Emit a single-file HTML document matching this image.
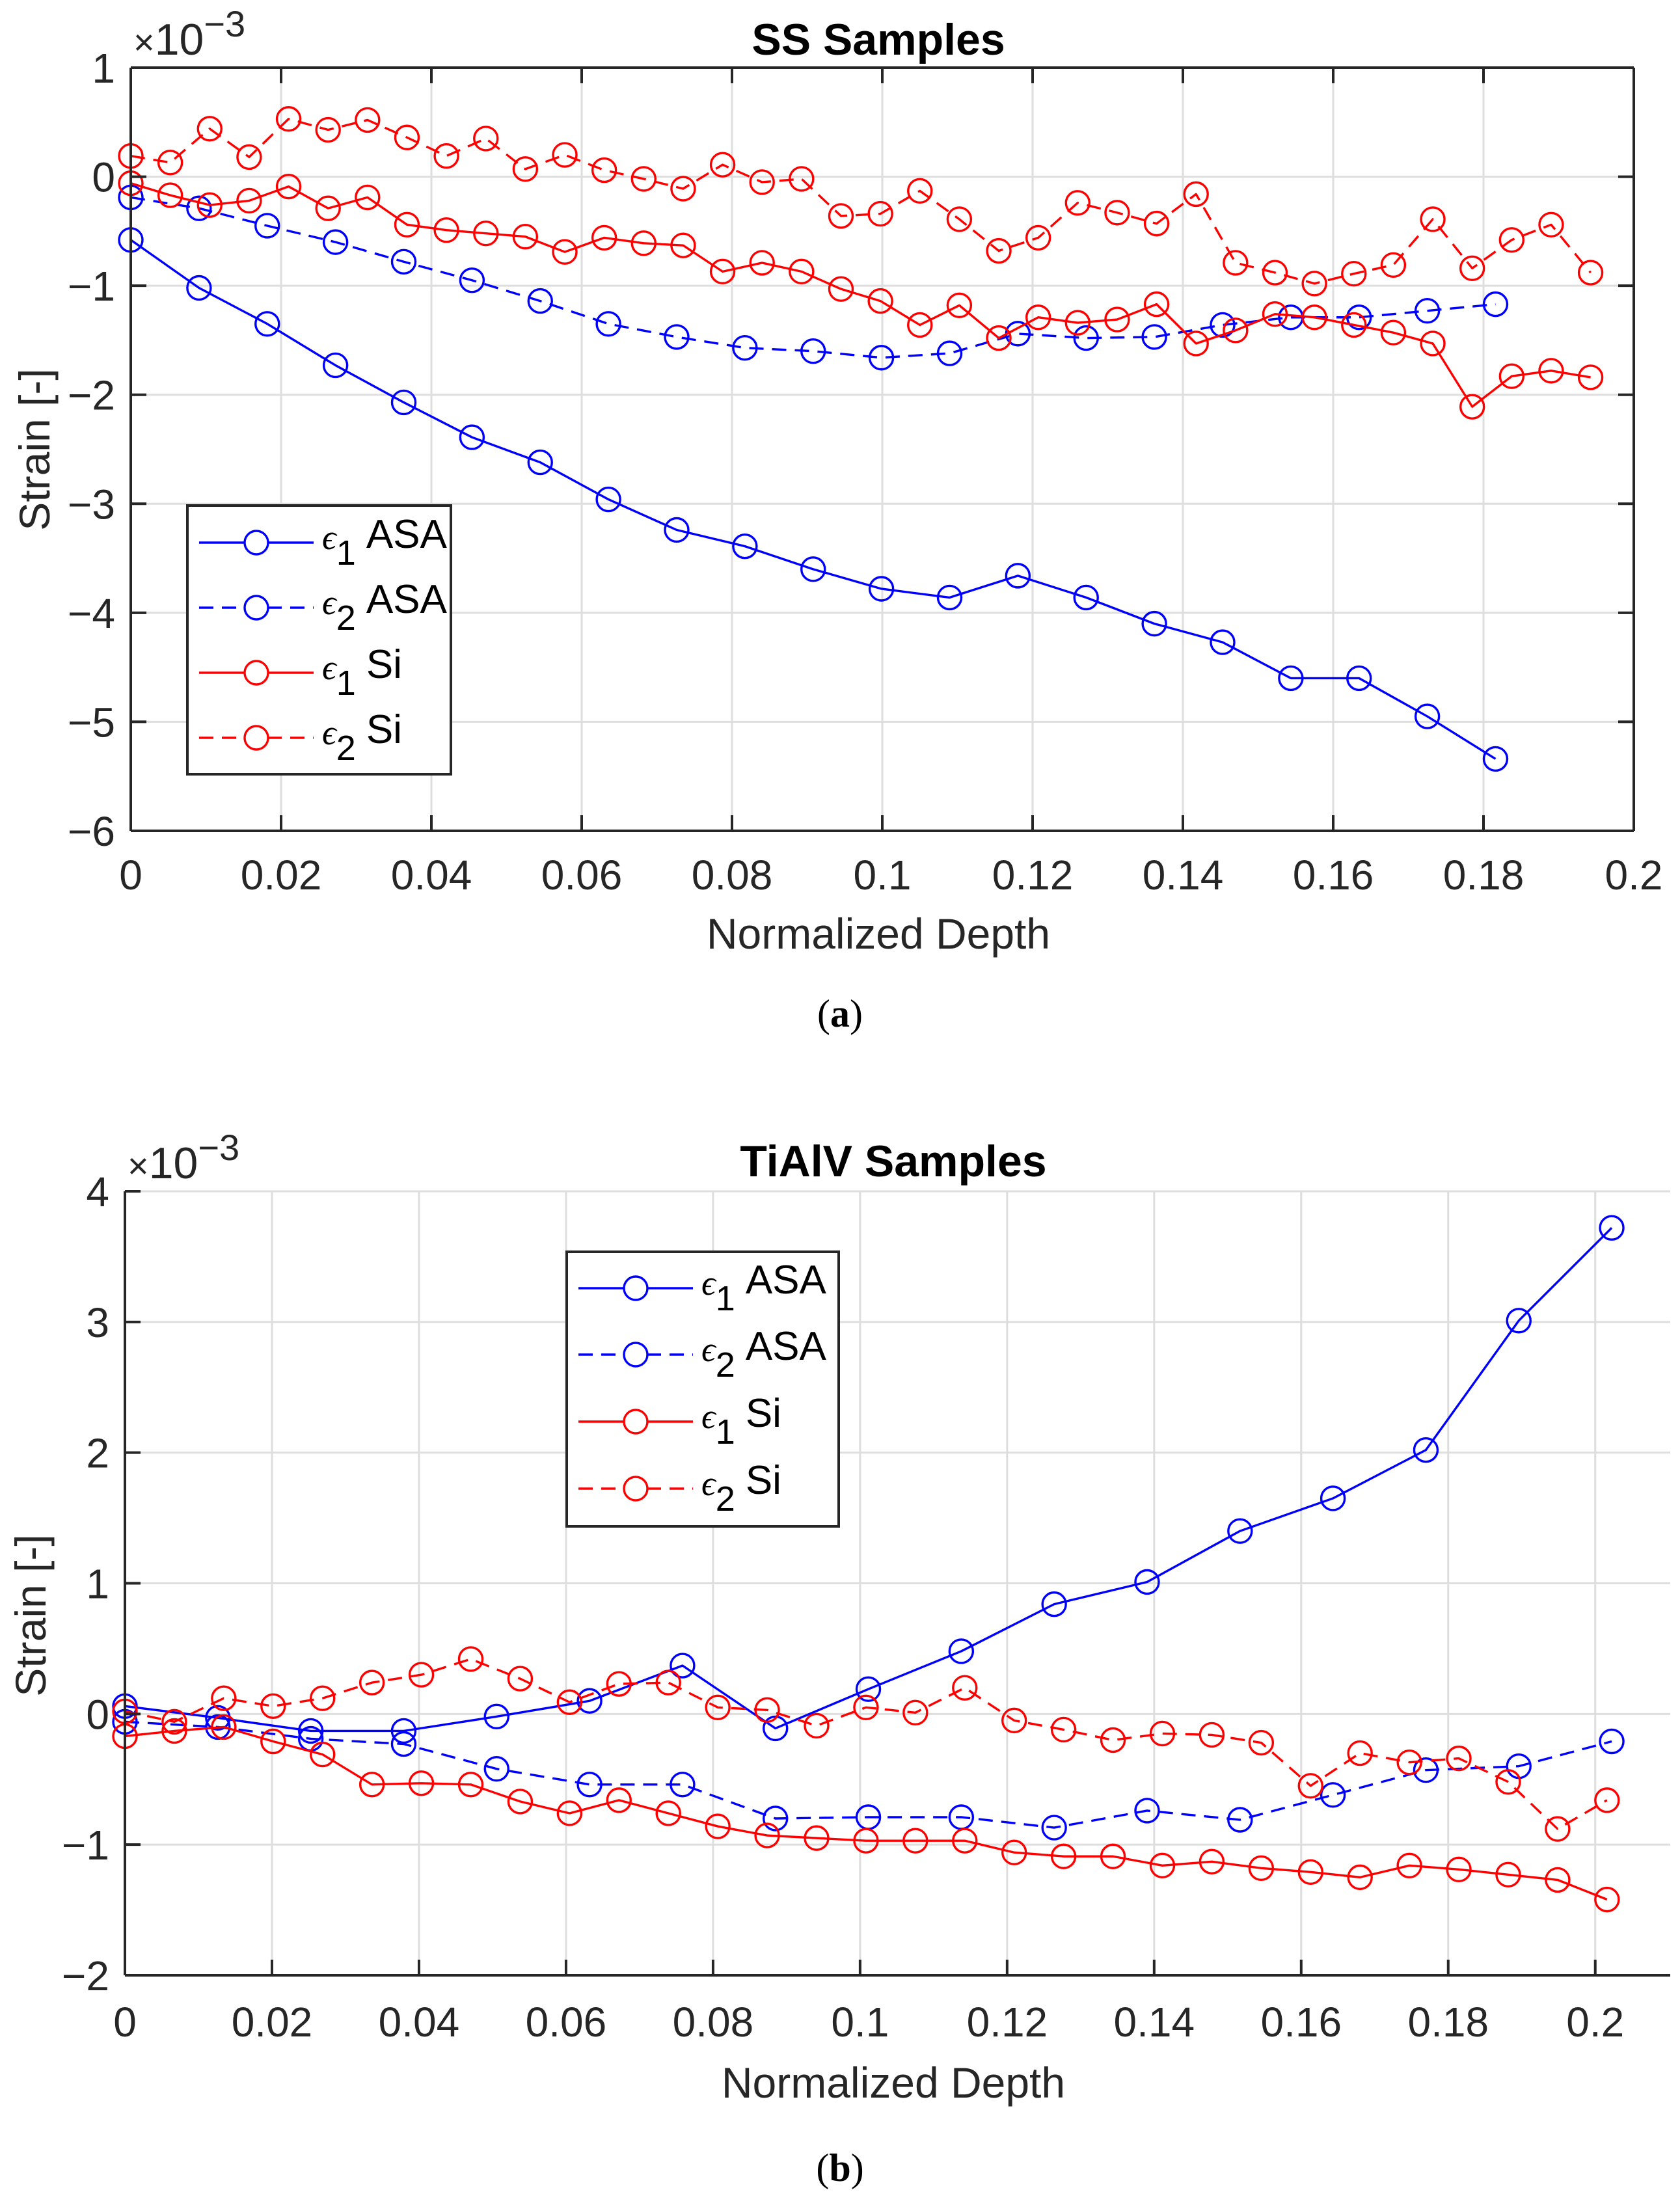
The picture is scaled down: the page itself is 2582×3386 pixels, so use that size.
<!DOCTYPE html>
<html><head><meta charset="utf-8"><style>
html,body{margin:0;padding:0;background:#fff;}
svg{display:block;font-family:"Liberation Sans",Arial,sans-serif;}
</style></head><body>
<svg id="fig" width="2582" height="3386" viewBox="0 0 2582 3386" xmlns="http://www.w3.org/2000/svg"></svg>
<script>
// ---- Panel (a) SS data ----
const ssAsaX = [0,0.00908,0.01816,0.02724,0.03632,0.0454,0.05448,0.06356,0.07264,0.08172,0.0908,0.09988,0.10896,0.11804,0.12712,0.1362,0.14528,0.15436,0.16344,0.17252,0.1816];
const ssAsaE1 = [-0.58,-1.02,-1.35,-1.73,-2.07,-2.39,-2.62,-2.96,-3.24,-3.39,-3.60,-3.78,-3.86,-3.66,-3.86,-4.10,-4.27,-4.60,-4.60,-4.95,-5.34];
const ssAsaE2 = [-0.19,-0.29,-0.45,-0.60,-0.78,-0.95,-1.14,-1.35,-1.47,-1.57,-1.60,-1.66,-1.62,-1.44,-1.48,-1.47,-1.36,-1.29,-1.29,-1.23,-1.17];
const ssSiX = [0,0.00525,0.0105,0.01575,0.021,0.02625,0.0315,0.03675,0.042,0.04725,0.0525,0.05775,0.063,0.06825,0.0735,0.07875,0.084,0.08925,0.0945,0.09975,0.105,0.11025,0.1155,0.12075,0.126,0.13125,0.1365,0.14175,0.147,0.15225,0.1575,0.16275,0.168,0.17325,0.1785,0.18375,0.189,0.19425];
const ssSiE1 = [-0.06,-0.17,-0.26,-0.22,-0.09,-0.29,-0.19,-0.44,-0.49,-0.52,-0.55,-0.69,-0.56,-0.61,-0.63,-0.87,-0.79,-0.87,-1.03,-1.14,-1.36,-1.18,-1.48,-1.29,-1.34,-1.31,-1.17,-1.53,-1.41,-1.26,-1.29,-1.36,-1.43,-1.53,-2.11,-1.83,-1.78,-1.84];
const ssSiE2 = [0.19,0.13,0.44,0.18,0.53,0.43,0.52,0.36,0.19,0.35,0.07,0.20,0.06,-0.02,-0.11,0.11,-0.05,-0.02,-0.36,-0.34,-0.13,-0.39,-0.68,-0.56,-0.24,-0.33,-0.43,-0.16,-0.79,-0.88,-0.98,-0.89,-0.81,-0.39,-0.84,-0.58,-0.44,-0.88];
const ssXTicks = [0,0.02,0.04,0.06,0.08,0.1,0.12,0.14,0.16,0.18,0.2];
const ssYTicks = [1,0,-1,-2,-3,-4,-5,-6];

// ---- Panel (b) TiAlV data ----
const tiAsaX = [0,0.01264,0.02528,0.03792,0.05056,0.0632,0.07584,0.08848,0.10112,0.11376,0.1264,0.13904,0.15168,0.16432,0.17696,0.1896,0.20224];
const tiAsaE1 = [0.06,-0.03,-0.13,-0.13,-0.02,0.10,0.37,-0.11,0.19,0.48,0.84,1.01,1.40,1.65,2.02,3.01,3.72];
const tiAsaE2 = [-0.06,-0.10,-0.19,-0.23,-0.42,-0.54,-0.54,-0.80,-0.79,-0.79,-0.87,-0.74,-0.81,-0.62,-0.43,-0.40,-0.21];
const tiSiX = [0,0.00672,0.01344,0.02016,0.02688,0.0336,0.04032,0.04704,0.05376,0.06048,0.0672,0.07392,0.08064,0.08736,0.09408,0.1008,0.10752,0.11424,0.12096,0.12768,0.1344,0.14112,0.14784,0.15456,0.16128,0.168,0.17472,0.18144,0.18816,0.19488,0.2016];
const tiSiE1 = [-0.17,-0.13,-0.10,-0.21,-0.31,-0.54,-0.53,-0.54,-0.67,-0.76,-0.66,-0.76,-0.86,-0.93,-0.95,-0.97,-0.97,-0.97,-1.06,-1.09,-1.09,-1.16,-1.13,-1.18,-1.21,-1.25,-1.16,-1.19,-1.23,-1.27,-1.42];
const tiSiE2 = [0.02,-0.06,0.12,0.06,0.12,0.24,0.30,0.42,0.27,0.09,0.23,0.24,0.05,0.03,-0.09,0.05,0.01,0.20,-0.05,-0.12,-0.20,-0.15,-0.16,-0.22,-0.55,-0.30,-0.37,-0.34,-0.52,-0.88,-0.66];
const tiXTicks = [0,0.02,0.04,0.06,0.08,0.1,0.12,0.14,0.16,0.18,0.2];
const tiYTicks = [4,3,2,1,0,-1,-2];

const NS = "http://www.w3.org/2000/svg";
const svg = document.getElementById('fig');
function el(tag, attrs, parent){
  const e = document.createElementNS(NS, tag);
  for (const k in attrs) e.setAttribute(k, attrs[k]);
  (parent||svg).appendChild(e);
  return e;
}
function fmt(v){ const s = String(v); return v<0 ? '\u2212'+s.slice(1) : s; }
const AX = '#262626', GRID = '#dedede', BLUE = '#0000ff', RED = '#ff0000';

function panel(cfg){
  const g = el('g', {});
  
  
  const sx = v => cfg.L + (v - cfg.x0) / (cfg.x1 - cfg.x0) * (cfg.R - cfg.L);
  const sy = v => cfg.T + (cfg.y1 - v) / (cfg.y1 - cfg.y0) * (cfg.B - cfg.T);
  cfg.xt.forEach(t => { const l = el('line', {x1:sx(t),x2:sx(t),y1:cfg.T,y2:cfg.B,stroke:GRID,'stroke-width':3}, g);
      });
  cfg.yt.forEach(t => { const l = el('line', {x1:cfg.L,x2:cfg.R,y1:sy(t),y2:sy(t),stroke:GRID,'stroke-width':3}, g);
      });
  cfg.series.forEach(s => {
    const sg = el('g', {}, g);
    
    
    const pts = s.x.map((x,i) => sx(x)+','+sy(s.y[i])).join(' ');
    el('polyline', {points:pts, fill:'none', stroke:s.c, 'stroke-width':3.4, 'stroke-dasharray': s.dash ? '22 13' : 'none', 'stroke-linejoin':'round'}, sg);
    s.x.forEach((x,i) => {
      const m = el('circle', {cx:sx(x), cy:sy(s.y[i]), r:18, fill:'none', stroke:s.c, 'stroke-width':3.4}, sg);
      
      
    });
  });
  const ax = el('g', {}, g);
  
  
  el('line', {x1:cfg.L,x2:cfg.L,y1:cfg.T,y2:cfg.B,stroke:AX,'stroke-width':4}, ax);
  el('line', {x1:cfg.L,x2:cfg.R,y1:cfg.B,y2:cfg.B,stroke:AX,'stroke-width':4}, ax);
  if (cfg.box){
    el('line', {x1:cfg.R,x2:cfg.R,y1:cfg.T,y2:cfg.B,stroke:AX,'stroke-width':4}, ax);
    el('line', {x1:cfg.L,x2:cfg.R,y1:cfg.T,y2:cfg.T,stroke:AX,'stroke-width':4}, ax);
  }
  cfg.xt.forEach(t => {
    el('line', {x1:sx(t),x2:sx(t),y1:cfg.B,y2:cfg.B-24,stroke:AX,'stroke-width':4}, ax);
    if (cfg.box) el('line', {x1:sx(t),x2:sx(t),y1:cfg.T,y2:cfg.T+24,stroke:AX,'stroke-width':4}, ax);
    const tx = el('text', {x:sx(t), y:cfg.B+cfg.xtOff, 'text-anchor':'middle', 'font-size':64, fill:AX}, ax);
    tx.textContent = fmt(t);
    
    
  });
  cfg.yt.forEach(t => {
    el('line', {x1:cfg.L,x2:cfg.L+24,y1:sy(t),y2:sy(t),stroke:AX,'stroke-width':4}, ax);
    if (cfg.box) el('line', {x1:cfg.R,x2:cfg.R-24,y1:sy(t),y2:sy(t),stroke:AX,'stroke-width':4}, ax);
    const tx = el('text', {x:cfg.L-24, y:sy(t)+23, 'text-anchor':'end', 'font-size':64, fill:AX}, ax);
    tx.textContent = fmt(t);
    
    
  });
  const ex = el('text', {x:cfg.L+4, y:cfg.T-20, 'font-size':68, fill:AX}, g);
  
  
  ex.innerHTML = '<tspan font-size="56">\u00d7</tspan>10<tspan dy="-28" font-size="56">\u22123</tspan>';
  const ti = el('text', {x:cfg.tX, y:cfg.tY, 'text-anchor':'middle', 'font-size':68, 'font-weight':'bold', fill:'#000'}, g);
  ti.textContent = cfg.title;
  
  
  const xl = el('text', {x:cfg.tX, y:cfg.xlY, 'text-anchor':'middle', 'font-size':66, fill:AX}, g);
  xl.textContent = 'Normalized Depth';
  
  
  const yl = el('text', {x:0, y:0, 'text-anchor':'middle', 'font-size':66, fill:AX, transform:'translate('+cfg.ylX+','+cfg.ylY+') rotate(-90)'}, g);
  yl.textContent = 'Strain [-]';
  
  
  const lg = el('g', {}, g);
  
  
  const Lg = cfg.leg;
  el('rect', {x:Lg.x, y:Lg.y, width:Lg.w, height:Lg.h, fill:'#fff', stroke:'#262626', 'stroke-width':4}, lg);
  cfg.series.forEach((s,i) => {
    const e = el('g', {}, lg);
    
    
    const yy = Lg.rows[i];
    el('line', {x1:Lg.x+18, x2:Lg.x+194, y1:yy, y2:yy, stroke:s.c, 'stroke-width':3.4, 'stroke-dasharray': s.dash ? '22 13' : 'none'}, e);
    el('circle', {cx:Lg.x+106, cy:yy, r:18, fill:'#fff', stroke:s.c, 'stroke-width':3.4}, e);
    const t = el('text', {x:Lg.x+207, y:yy+10, 'font-size':62, fill:'#000'}, e);
    t.innerHTML = '<tspan font-family="Liberation Serif" font-style="italic" font-size="54">\u03f5</tspan><tspan dy="24" font-size="54">'+s.sub+'</tspan><tspan dy="-26" dx="16">'+s.lab+'</tspan>';
  });
}

panel({name:'ss-samples-chart', title:'SS Samples', L:201, R:2511, T:104, B:1277, x0:0, x1:0.2, y0:-6, y1:1, box:true,
  xt:ssXTicks, yt:ssYTicks, xtOff:90, tX:1350, tY:84, xlY:1458, ylX:76, ylY:691,
  leg:{x:288, y:777, w:405, h:413, rows:[834,934,1034,1134]},
  series:[
    {name:'series-e1-asa', x:ssAsaX, y:ssAsaE1, c:BLUE, dash:false, sub:'1', lab:'ASA'},
    {name:'series-e2-asa', x:ssAsaX, y:ssAsaE2, c:BLUE, dash:true, sub:'2', lab:'ASA'},
    {name:'series-e1-si', x:ssSiX, y:ssSiE1, c:RED, dash:false, sub:'1', lab:'Si'},
    {name:'series-e2-si', x:ssSiX, y:ssSiE2, c:RED, dash:true, sub:'2', lab:'Si'}
  ]});
panel({name:'tialv-samples-chart', title:'TiAlV Samples', L:192, R:2567, T:1831, B:3036, x0:0, x1:0.2102, y0:-2, y1:4, box:false,
  xt:tiXTicks, yt:tiYTicks, xtOff:94, tX:1373, tY:1808, xlY:3224, ylX:70, ylY:2483,
  leg:{x:871, y:1924, w:418, h:422, rows:[1980,2082,2185,2288]},
  series:[
    {name:'series-e1-asa', x:tiAsaX, y:tiAsaE1, c:BLUE, dash:false, sub:'1', lab:'ASA'},
    {name:'series-e2-asa', x:tiAsaX, y:tiAsaE2, c:BLUE, dash:true, sub:'2', lab:'ASA'},
    {name:'series-e1-si', x:tiSiX, y:tiSiE1, c:RED, dash:false, sub:'1', lab:'Si'},
    {name:'series-e2-si', x:tiSiX, y:tiSiE2, c:RED, dash:true, sub:'2', lab:'Si'}
  ]});

const ca = el('text', {x:1291, y:1578, 'text-anchor':'middle', 'font-size':60, 'font-family':'Liberation Serif', fill:'#000'});
ca.innerHTML = '(<tspan font-weight="bold">a</tspan>)';


const cb = el('text', {x:1291, y:3352, 'text-anchor':'middle', 'font-size':60, 'font-family':'Liberation Serif', fill:'#000'});
cb.innerHTML = '(<tspan font-weight="bold">b</tspan>)';


</script>
</body></html>
